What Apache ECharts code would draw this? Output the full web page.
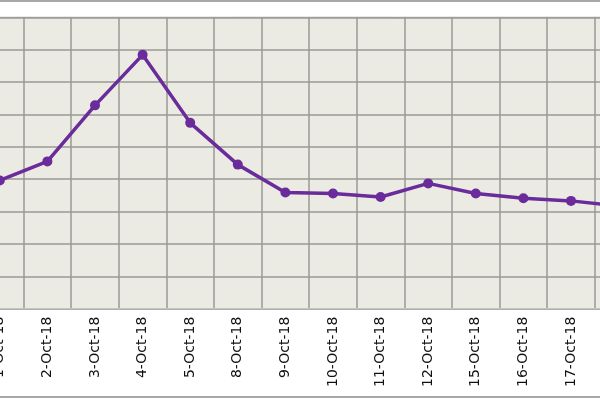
<!DOCTYPE html>
<html>
<head>
<meta charset="utf-8">
<script src="https://cdn.jsdelivr.net/npm/echarts@6/dist/echarts.min.js"></script>
<style>
html,body{margin:0;padding:0;background:#fff;overflow:hidden;}
#wrap{position:relative;width:600px;height:400px;overflow:hidden;}
#chart{position:absolute;left:-24.3px;top:0;width:700px;height:400px;}
</style>
</head>
<body>
<div id="wrap"><div id="chart"></div></div>
<script>
const categories = ['1-Oct-18','2-Oct-18','3-Oct-18','4-Oct-18','5-Oct-18','8-Oct-18','9-Oct-18','10-Oct-18','11-Oct-18','12-Oct-18','15-Oct-18','16-Oct-18','17-Oct-18','18-Oct-18'];
const values = [39.6,45.5,62.8,78.4,57.4,44.5,35.9,35.6,34.5,38.7,35.6,34.1,33.3,31.7];
const yMin = 0, yMax = 90, yStep = 10;

const chart = echarts.init(document.getElementById('chart'));
chart.setOption({
  animation: false,
  backgroundColor: '#ffffff',
  grid: {
    left: 0, top: 17.3, width: 666.4, height: 291.4,
    show: true, backgroundColor: '#ecebe3', borderColor: '#9a9a96', borderWidth: 1
  },
  graphic: [
    {type:'line', shape:{x1:0,y1:1,x2:700,y2:1}, style:{stroke:'#a8a8a8', lineWidth:2}},
    {type:'line', shape:{x1:0,y1:397,x2:700,y2:397}, style:{stroke:'#a8a8a8', lineWidth:2}}
  ],
  xAxis: {
    type: 'category',
    data: categories,
    boundaryGap: true,
    axisTick: {show: false},
    axisLine: {show: true, lineStyle: {color: '#c4c4c4', width: 1}},
    splitLine: {show: true, interval: 0, lineStyle: {color: '#9a9a96', width: 1.5}},
    axisLabel: {
      interval: 0, rotate: 90, margin: 8,
      fontFamily: 'DejaVu Sans', fontSize: 14, color: '#111'
    }
  },
  yAxis: {
    type: 'value',
    min: yMin, max: yMax, interval: yStep,
    axisLabel: {show: false},
    axisLine: {show: false},
    axisTick: {show: false},
    splitLine: {show: true, lineStyle: {color: '#9a9a96', width: 1.5}}
  },
  series: [{
    type: 'line',
    data: values,
    symbol: 'circle',
    symbolSize: 10,
    lineStyle: {color: '#6a2b9b', width: 3.5},
    itemStyle: {color: '#6a2b9b'}
  }]
});
</script>
</body>
</html>
